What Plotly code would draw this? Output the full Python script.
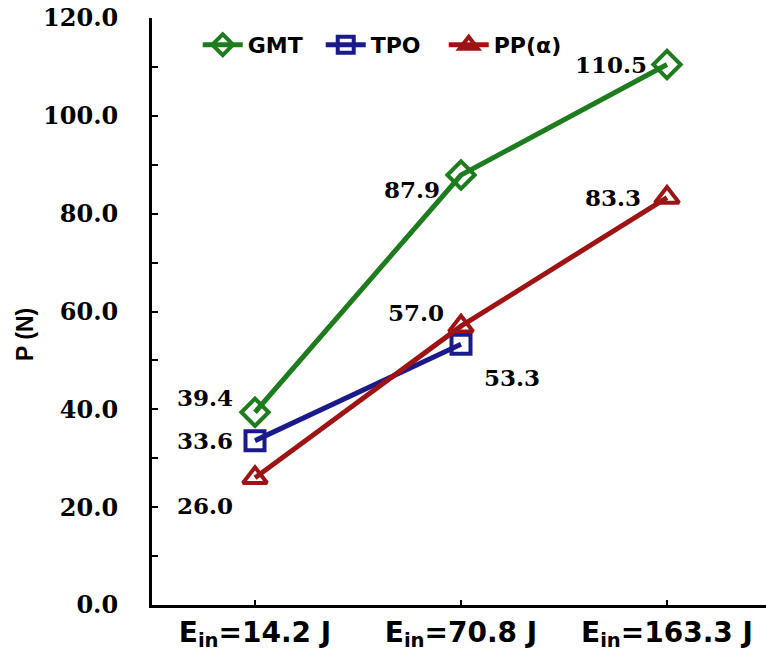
import plotly.graph_objects as go

categories = ["E<sub>in</sub>=14.2 J", "E<sub>in</sub>=70.8 J", "E<sub>in</sub>=163.3 J"]
gmt = [39.4, 87.9, 110.5]
tpo = [33.6, 53.3]
pp = [26.0, 57.0, 83.3]
y_ticks = [0, 20, 40, 60, 80, 100, 120]

# label offsets in pixels (dx, dy-up) per point
gmt_off = [(-50, 15), (-49, -14), (-56, 0)]
tpo_off = [(-50, 0), (51, -33)]
pp_off = [(-50, -28), (-45, 14), (-54, 0)]

label_font = dict(family="DejaVu Serif", size=23, color="black")

fig = go.Figure()
series = [
    ("GMT", categories, gmt, "#1e7b1e", "diamond-open", 21, gmt_off),
    ("TPO", categories[:2], tpo, "#1a1a8a", "square-open", 19, tpo_off),
    ("PP(α)", categories, pp, "#9e1414", "triangle-up-open", 21, pp_off),
]
for name, xs, ys, col, sym, sz, offs in series:
    fig.add_trace(go.Scatter(
        x=xs, y=ys, name=f"<b>{name}</b>", mode="lines+markers",
        line=dict(color=col, width=5),
        marker=dict(symbol=sym, size=sz, color=col, line=dict(width=4)),
        cliponaxis=False,
    ))
    for xv, yv, (dx, dy) in zip(xs, ys, offs):
        fig.add_annotation(x=xv, y=yv, text=f"<b>{yv:.1f}</b>", showarrow=False,
                           xshift=dx, yshift=dy, font=label_font)

fig.add_annotation(text="<b>P (N)</b>", textangle=-90, showarrow=False,
                   xref="paper", yref="paper", x=0, y=0.46, xshift=-127,
                   xanchor="center", yanchor="middle",
                   font=dict(family="Liberation Sans", size=23, color="black"))

fig.update_layout(
    width=770, height=657,
    margin=dict(l=152, r=0, t=18, b=52),
    plot_bgcolor="white", paper_bgcolor="white",
    showlegend=True,
    legend=dict(orientation="h", x=0.074, y=0.99, yanchor="top", xanchor="left",
                font=dict(family="DejaVu Sans", size=22, color="black"),
                bgcolor="rgba(0,0,0,0)", itemwidth=40,
                entrywidth=68, entrywidthmode="pixels"),
    xaxis=dict(type="category", range=[-0.5, 2.5], showline=True, linecolor="black", linewidth=3,
               ticks="inside", ticklen=5, tickwidth=2, tickcolor="black", showgrid=False,
               automargin=False,
               tickfont=dict(family="DejaVu Sans", size=28, color="black"),
               tickvals=categories, ticktext=[f"<b>{c}</b>" for c in categories]),
    yaxis=dict(range=[0, 120], showline=True, linecolor="black", linewidth=3,
               ticks="inside", ticklen=6, tickwidth=2, tickcolor="black", showgrid=False,
               zeroline=False, automargin=False,
               tickvals=y_ticks, ticktext=[f"<b>{v:.1f}</b>" for v in y_ticks],
               tickfont=dict(family="DejaVu Serif", size=24, color="black"),
               ticklabelstandoff=26,
               minor=dict(ticks="inside", dtick=10, ticklen=6, tickwidth=2, tickcolor="black")),
)

fig.write_html("out.html", config={"displayModeBar": False},
               post_script="document.body.style.margin='0';document.body.style.overflow='hidden';")
